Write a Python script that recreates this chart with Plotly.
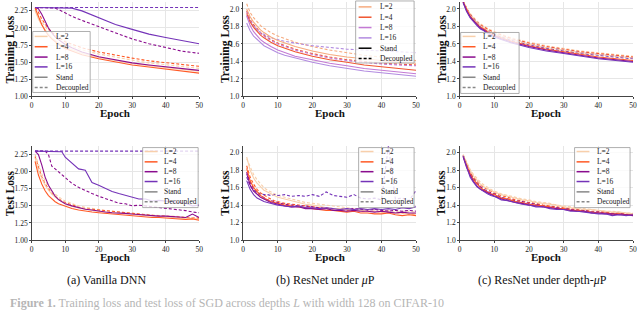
import plotly.graph_objects as go

# ---------------- data ----------------
epochs_train = [1, 2, 3, 4, 5, 6, 7, 8, 10, 12, 15, 20, 25, 30, 35, 40, 45, 50]
epochs_test = [1, 2, 3, 4, 5, 6, 7, 8, 9, 10, 12, 14, 16, 18, 20, 22, 24, 26, 28, 30,
               32, 34, 36, 38, 40, 42, 44, 46, 48, 50]
depth_labels = ["L=2", "L=4", "L=8", "L=16"]
style_labels = ["Stand", "Decoupled"]
x_ticks = [0, 10, 20, 30, 40, 50]
y_ticks_dnn = [1.0, 1.25, 1.5, 1.75, 2.0, 2.25]
y_ticks_res = [1.0, 1.2, 1.4, 1.6, 1.8, 2.0]
captions = ["(a) Vanilla DNN", "(b) ResNet under <i>μ</i>P", "(c) ResNet under depth-<i>μ</i>P"]

# (a) Vanilla DNN - training loss
a_tr_L2_stand = [2.25, 2.13, 2.04, 1.97, 1.91, 1.86, 1.82, 1.78, 1.72, 1.68, 1.63, 1.57, 1.52, 1.48, 1.45, 1.42, 1.39, 1.37]
a_tr_L4_stand = [2.29, 2.16, 2.05, 1.96, 1.89, 1.84, 1.80, 1.76, 1.70, 1.66, 1.61, 1.55, 1.50, 1.46, 1.43, 1.40, 1.37, 1.34]
a_tr_L8_stand = [2.30, 2.28, 2.20, 2.09, 2.00, 1.93, 1.87, 1.83, 1.76, 1.71, 1.65, 1.58, 1.53, 1.49, 1.46, 1.43, 1.40, 1.38]
a_tr_L16_stand = [2.30, 2.30, 2.30, 2.30, 2.30, 2.30, 2.30, 2.30, 2.30, 2.29, 2.25, 2.15, 2.05, 1.98, 1.91, 1.86, 1.81, 1.77]
a_tr_L2_dec = [2.27, 2.17, 2.09, 2.02, 1.96, 1.91, 1.87, 1.83, 1.77, 1.73, 1.68, 1.62, 1.57, 1.53, 1.49, 1.46, 1.43, 1.41]
a_tr_L4_dec = [2.30, 2.23, 2.13, 2.05, 1.99, 1.94, 1.90, 1.86, 1.80, 1.76, 1.71, 1.65, 1.60, 1.56, 1.52, 1.49, 1.46, 1.44]
a_tr_L8_dec = [2.30, 2.30, 2.30, 2.30, 2.30, 2.30, 2.29, 2.27, 2.22, 2.17, 2.11, 2.02, 1.92, 1.84, 1.77, 1.71, 1.66, 1.63]
a_tr_L16_dec = [2.30, 2.30, 2.30, 2.30, 2.30, 2.30, 2.30, 2.30, 2.30, 2.30, 2.30, 2.30, 2.30, 2.30, 2.30, 2.30, 2.30, 2.30]

# (a) Vanilla DNN - test loss
a_te_L2_stand = [2.20, 2.02, 1.90, 1.80, 1.73, 1.67, 1.63, 1.59, 1.56, 1.53, 1.49, 1.47, 1.45, 1.44, 1.42, 1.41, 1.40, 1.39, 1.38, 1.37, 1.36, 1.36, 1.35, 1.34, 1.34, 1.33, 1.33, 1.31, 1.32, 1.30]
a_te_L4_stand = [2.15, 1.95, 1.82, 1.72, 1.65, 1.60, 1.56, 1.53, 1.51, 1.49, 1.46, 1.44, 1.42, 1.41, 1.40, 1.39, 1.38, 1.37, 1.36, 1.36, 1.35, 1.34, 1.33, 1.33, 1.32, 1.32, 1.31, 1.30, 1.31, 1.29]
a_te_L8_stand = [2.30, 2.25, 2.10, 1.92, 1.80, 1.71, 1.64, 1.59, 1.56, 1.53, 1.50, 1.47, 1.45, 1.44, 1.42, 1.41, 1.40, 1.40, 1.39, 1.38, 1.37, 1.37, 1.36, 1.35, 1.35, 1.34, 1.34, 1.33, 1.38, 1.33]
a_te_L16_stand = [2.30, 2.30, 2.30, 2.30, 2.30, 2.30, 2.30, 2.30, 2.29, 2.21, 2.12, 2.04, 2.02, 1.84, 1.80, 1.75, 1.71, 1.68, 1.65, 1.63, 1.60, 1.60, 1.57, 1.58, 1.57, 1.55, 1.55, 1.54, 1.50, 1.51]
a_te_L2_dec = [2.25, 2.10, 1.97, 1.86, 1.78, 1.72, 1.67, 1.63, 1.60, 1.57, 1.53, 1.50, 1.48, 1.46, 1.45, 1.43, 1.42, 1.41, 1.40, 1.39, 1.38, 1.37, 1.37, 1.36, 1.35, 1.35, 1.34, 1.34, 1.33, 1.33]
a_te_L4_dec = [2.22, 2.05, 1.92, 1.82, 1.74, 1.68, 1.64, 1.60, 1.57, 1.55, 1.51, 1.48, 1.46, 1.45, 1.43, 1.42, 1.41, 1.40, 1.39, 1.38, 1.37, 1.37, 1.36, 1.35, 1.35, 1.34, 1.33, 1.33, 1.32, 1.32]
a_te_L8_dec = [2.30, 2.30, 2.30, 2.30, 2.25, 2.08, 2.04, 2.00, 1.96, 1.92, 1.83, 1.77, 1.72, 1.68, 1.64, 1.61, 1.57, 1.54, 1.53, 1.50, 1.51, 1.50, 1.49, 1.48, 1.46, 1.45, 1.44, 1.43, 1.41, 1.40]
a_te_L16_dec = [2.30, 2.30, 2.30, 2.30, 2.30, 2.30, 2.30, 2.30, 2.30, 2.30, 2.30, 2.30, 2.30, 2.30, 2.30, 2.30, 2.30, 2.30, 2.30, 2.30, 2.30, 2.30, 2.30, 2.30, 2.30, 2.30, 2.30, 2.30, 2.30, 2.30]

# (b) ResNet under muP - training loss
b_tr_L2_stand = [2.00, 1.91, 1.85, 1.80, 1.76, 1.73, 1.70, 1.68, 1.64, 1.61, 1.57, 1.52, 1.48, 1.45, 1.43, 1.41, 1.39, 1.38]
b_tr_L4_stand = [1.95, 1.85, 1.79, 1.74, 1.70, 1.67, 1.64, 1.62, 1.58, 1.55, 1.51, 1.46, 1.42, 1.39, 1.36, 1.34, 1.32, 1.30]
b_tr_L8_stand = [1.92, 1.81, 1.74, 1.69, 1.65, 1.62, 1.59, 1.57, 1.53, 1.50, 1.46, 1.42, 1.38, 1.35, 1.32, 1.30, 1.28, 1.26]
b_tr_L16_stand = [1.84, 1.75, 1.69, 1.65, 1.61, 1.58, 1.56, 1.54, 1.50, 1.47, 1.44, 1.39, 1.35, 1.32, 1.29, 1.27, 1.25, 1.23]
b_tr_L2_dec = [2.06, 1.96, 1.90, 1.85, 1.81, 1.78, 1.75, 1.73, 1.69, 1.66, 1.62, 1.57, 1.53, 1.50, 1.47, 1.45, 1.43, 1.41]
b_tr_L4_dec = [1.98, 1.88, 1.82, 1.77, 1.73, 1.70, 1.67, 1.65, 1.61, 1.58, 1.54, 1.49, 1.45, 1.42, 1.40, 1.38, 1.37, 1.36]
b_tr_L8_dec = [1.97, 1.87, 1.81, 1.76, 1.72, 1.69, 1.66, 1.64, 1.60, 1.57, 1.53, 1.48, 1.44, 1.41, 1.39, 1.37, 1.36, 1.35]
b_tr_L16_dec = [1.93, 1.85, 1.80, 1.76, 1.73, 1.71, 1.69, 1.67, 1.65, 1.63, 1.61, 1.58, 1.56, 1.54, 1.53, 1.52, 1.51, 1.50]

# (b) ResNet under muP - test loss
b_te_L2_stand = [1.95, 1.80, 1.71, 1.65, 1.61, 1.57, 1.55, 1.53, 1.51, 1.49, 1.47, 1.45, 1.43, 1.41, 1.40, 1.39, 1.37, 1.36, 1.36, 1.35, 1.34, 1.34, 1.33, 1.33, 1.32, 1.32, 1.31, 1.31, 1.30, 1.30]
b_te_L4_stand = [1.82, 1.68, 1.60, 1.55, 1.51, 1.48, 1.46, 1.44, 1.43, 1.42, 1.40, 1.39, 1.38, 1.37, 1.36, 1.35, 1.34, 1.34, 1.33, 1.32, 1.33, 1.31, 1.31, 1.30, 1.30, 1.31, 1.29, 1.28, 1.29, 1.28]
b_te_L8_stand = [1.76, 1.63, 1.56, 1.52, 1.49, 1.47, 1.45, 1.43, 1.42, 1.41, 1.39, 1.38, 1.38, 1.36, 1.36, 1.35, 1.36, 1.34, 1.34, 1.33, 1.34, 1.33, 1.33, 1.32, 1.33, 1.32, 1.31, 1.32, 1.31, 1.31]
b_te_L16_stand = [1.68, 1.58, 1.52, 1.48, 1.46, 1.44, 1.43, 1.42, 1.41, 1.40, 1.39, 1.38, 1.39, 1.37, 1.37, 1.36, 1.37, 1.36, 1.35, 1.36, 1.35, 1.36, 1.35, 1.36, 1.35, 1.36, 1.35, 1.37, 1.36, 1.38]
b_te_L2_dec = [1.93, 1.83, 1.75, 1.69, 1.64, 1.60, 1.57, 1.55, 1.53, 1.51, 1.49, 1.47, 1.45, 1.43, 1.42, 1.41, 1.40, 1.39, 1.38, 1.37, 1.36, 1.36, 1.35, 1.35, 1.34, 1.34, 1.33, 1.33, 1.33, 1.32]
b_te_L4_dec = [1.85, 1.72, 1.64, 1.58, 1.54, 1.51, 1.49, 1.47, 1.45, 1.44, 1.42, 1.41, 1.40, 1.39, 1.38, 1.37, 1.36, 1.36, 1.35, 1.34, 1.34, 1.33, 1.33, 1.33, 1.32, 1.32, 1.31, 1.31, 1.30, 1.30]
b_te_L8_dec = [1.78, 1.66, 1.59, 1.54, 1.51, 1.48, 1.46, 1.45, 1.44, 1.43, 1.41, 1.40, 1.39, 1.39, 1.38, 1.37, 1.37, 1.36, 1.36, 1.35, 1.36, 1.35, 1.34, 1.35, 1.34, 1.33, 1.34, 1.33, 1.34, 1.33]
b_te_L16_dec = [1.72, 1.62, 1.57, 1.54, 1.53, 1.52, 1.52, 1.51, 1.52, 1.51, 1.52, 1.50, 1.51, 1.50, 1.52, 1.50, 1.55, 1.51, 1.50, 1.49, 1.52, 1.48, 1.47, 1.48, 1.46, 2.08, 1.47, 1.48, 1.45, 1.57]

# (c) ResNet under depth-muP - training loss
c_tr_L2_stand = [2.09, 2.00, 1.93, 1.88, 1.84, 1.81, 1.78, 1.76, 1.72, 1.69, 1.65, 1.60, 1.56, 1.53, 1.50, 1.48, 1.46, 1.44]
c_tr_L4_stand = [2.08, 1.99, 1.92, 1.87, 1.83, 1.79, 1.77, 1.74, 1.70, 1.67, 1.63, 1.58, 1.54, 1.51, 1.48, 1.45, 1.43, 1.41]
c_tr_L8_stand = [2.08, 1.98, 1.91, 1.86, 1.82, 1.78, 1.76, 1.73, 1.69, 1.66, 1.62, 1.57, 1.53, 1.50, 1.47, 1.44, 1.42, 1.40]
c_tr_L16_stand = [2.07, 1.97, 1.90, 1.85, 1.81, 1.77, 1.75, 1.72, 1.68, 1.65, 1.61, 1.56, 1.52, 1.49, 1.46, 1.43, 1.41, 1.39]
c_tr_L2_dec = [2.10, 2.01, 1.95, 1.90, 1.86, 1.83, 1.80, 1.78, 1.74, 1.71, 1.67, 1.62, 1.58, 1.55, 1.52, 1.50, 1.48, 1.46]
c_tr_L4_dec = [2.09, 2.00, 1.94, 1.89, 1.85, 1.82, 1.79, 1.77, 1.73, 1.70, 1.66, 1.61, 1.57, 1.54, 1.51, 1.49, 1.47, 1.45]
c_tr_L8_dec = [2.09, 2.00, 1.93, 1.88, 1.84, 1.81, 1.78, 1.76, 1.72, 1.69, 1.65, 1.60, 1.56, 1.53, 1.50, 1.48, 1.46, 1.44]
c_tr_L16_dec = [2.08, 1.99, 1.93, 1.88, 1.84, 1.80, 1.78, 1.75, 1.71, 1.68, 1.64, 1.59, 1.55, 1.52, 1.49, 1.47, 1.45, 1.43]

# (c) ResNet under depth-muP - test loss
c_te_L2_stand = [1.97, 1.88, 1.80, 1.73, 1.68, 1.64, 1.61, 1.59, 1.57, 1.55, 1.52, 1.50, 1.48, 1.46, 1.45, 1.43, 1.42, 1.41, 1.40, 1.38, 1.37, 1.36, 1.35, 1.35, 1.34, 1.33, 1.32, 1.32, 1.31, 1.30]
c_te_L4_stand = [1.96, 1.85, 1.76, 1.69, 1.64, 1.60, 1.57, 1.55, 1.53, 1.52, 1.48, 1.47, 1.44, 1.43, 1.41, 1.40, 1.39, 1.38, 1.36, 1.36, 1.34, 1.34, 1.33, 1.32, 1.31, 1.31, 1.30, 1.30, 1.29, 1.29]
c_te_L8_stand = [1.95, 1.83, 1.74, 1.67, 1.62, 1.58, 1.56, 1.54, 1.52, 1.50, 1.47, 1.45, 1.43, 1.42, 1.40, 1.39, 1.38, 1.37, 1.36, 1.35, 1.34, 1.33, 1.33, 1.31, 1.31, 1.30, 1.30, 1.29, 1.29, 1.28]
c_te_L16_stand = [1.96, 1.84, 1.72, 1.66, 1.61, 1.58, 1.55, 1.53, 1.51, 1.50, 1.46, 1.45, 1.43, 1.41, 1.40, 1.38, 1.38, 1.36, 1.35, 1.35, 1.33, 1.33, 1.32, 1.31, 1.30, 1.30, 1.28, 1.29, 1.28, 1.29]
c_te_L2_dec = [1.98, 1.89, 1.81, 1.75, 1.70, 1.66, 1.63, 1.60, 1.58, 1.56, 1.53, 1.51, 1.49, 1.47, 1.46, 1.44, 1.43, 1.42, 1.40, 1.39, 1.38, 1.37, 1.36, 1.35, 1.34, 1.33, 1.33, 1.32, 1.31, 1.31]
c_te_L4_dec = [1.97, 1.87, 1.78, 1.72, 1.67, 1.63, 1.60, 1.58, 1.56, 1.54, 1.51, 1.49, 1.46, 1.45, 1.43, 1.42, 1.40, 1.39, 1.38, 1.37, 1.36, 1.35, 1.34, 1.33, 1.33, 1.32, 1.31, 1.31, 1.30, 1.30]
c_te_L8_dec = [1.96, 1.86, 1.77, 1.70, 1.65, 1.61, 1.58, 1.56, 1.54, 1.53, 1.49, 1.47, 1.45, 1.44, 1.42, 1.41, 1.39, 1.38, 1.37, 1.36, 1.35, 1.34, 1.34, 1.32, 1.32, 1.31, 1.30, 1.31, 1.29, 1.30]
c_te_L16_dec = [1.97, 1.86, 1.76, 1.69, 1.64, 1.60, 1.57, 1.55, 1.53, 1.51, 1.48, 1.46, 1.44, 1.42, 1.41, 1.40, 1.38, 1.37, 1.36, 1.36, 1.34, 1.33, 1.33, 1.32, 1.31, 1.31, 1.29, 1.30, 1.29, 1.30]

# ---------------- styling ----------------
W, H = 640, 311
SERIF = "Liberation Serif, Times New Roman, serif"
colors_dnn = ["#f8cfab", "#ff5a26", "#8a0c8e", "#7433b8"]
colors_mup = ["#f6aa7e", "#f05530", "#c47ad4", "#b28be0"]
dash_pat = "3px,2px"


def px_x(x):
    return x / W


def px_y(y):
    return 1 - y / H


panels = [
    dict(x=epochs_train, s=[[a_tr_L2_stand, a_tr_L2_dec], [a_tr_L4_stand, a_tr_L4_dec], [a_tr_L8_stand, a_tr_L8_dec], [a_tr_L16_stand, a_tr_L16_dec]],
         cols=colors_dnn, sc="#888888", xpx=(30, 199), ypx=(2, 98), yr=[1.0, 2.38], yt=y_ticks_dnn, fmt=".2f",
         ytitle="Training Loss", ytx=8.5, leg=dict(box=(31, 89, 32, 94), smp=(33, 46), tx=52, ys=[37, 47.5, 58, 68, 78.5, 89])),
    dict(x=epochs_train, s=[[b_tr_L2_stand, b_tr_L2_dec], [b_tr_L4_stand, b_tr_L4_dec], [b_tr_L8_stand, b_tr_L8_dec], [b_tr_L16_stand, b_tr_L16_dec]],
         cols=colors_mup, sc="#000000", xpx=(243.5, 418), ypx=(2, 98), yr=[1.0, 2.08], yt=y_ticks_res, fmt=".1f",
         ytitle="Training Loss", ytx=225, leg=dict(box=(357, 416, 1, 64), smp=(360, 373), tx=380, ys=[7, 17.5, 28, 38.5, 49, 59.5])),
    dict(x=epochs_train, s=[[c_tr_L2_stand, c_tr_L2_dec], [c_tr_L4_stand, c_tr_L4_dec], [c_tr_L8_stand, c_tr_L8_dec], [c_tr_L16_stand, c_tr_L16_dec]],
         cols=colors_dnn, sc="#888888", xpx=(462, 637), ypx=(2, 98), yr=[1.0, 2.08], yt=y_ticks_res, fmt=".1f",
         ytitle="Training Loss", ytx=444, leg=dict(box=(463, 522, 33, 95), smp=(465, 478), tx=484, ys=[37, 47.5, 58, 68, 78.5, 89])),
    dict(x=epochs_test, s=[[a_te_L2_stand, a_te_L2_dec], [a_te_L4_stand, a_te_L4_dec], [a_te_L8_stand, a_te_L8_dec], [a_te_L16_stand, a_te_L16_dec]],
         cols=colors_dnn, sc="#888888", xpx=(30, 199), ypx=(148, 244), yr=[1.0, 2.38], yt=y_ticks_dnn, fmt=".2f",
         ytitle="Test Loss", ytx=7.5, leg=dict(box=(142, 198, 150, 211), smp=(144, 157), tx=162, ys=[154, 164.5, 174.5, 184.5, 195, 205])),
    dict(x=epochs_test, s=[[b_te_L2_stand, b_te_L2_dec], [b_te_L4_stand, b_te_L4_dec], [b_te_L8_stand, b_te_L8_dec], [b_te_L16_stand, b_te_L16_dec]],
         cols=colors_dnn, sc="#888888", xpx=(243.5, 418), ypx=(148, 244), yr=[1.0, 2.08], yt=y_ticks_res, fmt=".1f",
         ytitle="Test Loss", ytx=225, leg=dict(box=(360, 416, 150, 211), smp=(362, 375), tx=381, ys=[154, 164.5, 174.5, 184.5, 195, 205])),
    dict(x=epochs_test, s=[[c_te_L2_stand, c_te_L2_dec], [c_te_L4_stand, c_te_L4_dec], [c_te_L8_stand, c_te_L8_dec], [c_te_L16_stand, c_te_L16_dec]],
         cols=colors_dnn, sc="#888888", xpx=(462, 637), ypx=(148, 244), yr=[1.0, 2.08], yt=y_ticks_res, fmt=".1f",
         ytitle="Test Loss", ytx=443, leg=dict(box=(578, 634, 150, 211), smp=(580, 593), tx=599, ys=[154, 164.5, 174.5, 184.5, 195, 205])),
]

fig = go.Figure()
shapes = []
annotations = []

for i, p in enumerate(panels, start=1):
    xa = "x" if i == 1 else f"x{i}"
    ya = "y" if i == 1 else f"y{i}"
    for style_idx in (1, 0):
        for d_idx, pair in enumerate(p["s"]):
            fig.add_trace(go.Scatter(
                x=p["x"], y=pair[style_idx], mode="lines",
                line=dict(color=p["cols"][d_idx], width=1.1,
                          dash=dash_pat if style_idx == 1 else "solid"),
                showlegend=False, hoverinfo="skip", xaxis=xa, yaxis=ya))
    axis_common = dict(showline=True, linecolor="#444444", linewidth=1, mirror=False,
                       showgrid=True, gridcolor="#e6e6e6", gridwidth=0.8, zeroline=False,
                       ticks="outside", ticklen=1.5, tickcolor="#444444", tickwidth=0.8,
                       tickfont=dict(family=SERIF, size=7.5, color="#222222"))
    fig.layout["xaxis" if i == 1 else f"xaxis{i}"] = dict(
        domain=[px_x(p["xpx"][0]), px_x(p["xpx"][1])], range=[0, 50], tickvals=x_ticks,
        anchor=ya, **axis_common)
    fig.layout["yaxis" if i == 1 else f"yaxis{i}"] = dict(
        domain=[px_y(p["ypx"][1]), px_y(p["ypx"][0])], range=p["yr"], tickvals=p["yt"],
        tickformat=p["fmt"], anchor=xa, **axis_common)

    # axis titles
    cx = (p["xpx"][0] + p["xpx"][1]) / 2
    ty = p["ypx"][1] + 17
    annotations.append(dict(x=px_x(cx), y=px_y(ty), xref="paper", yref="paper", text="<b>Epoch</b>",
                            showarrow=False, font=dict(family=SERIF, size=11, color="#111111"),
                            xanchor="center", yanchor="middle", borderpad=0))
    cy = (p["ypx"][0] + p["ypx"][1]) / 2
    annotations.append(dict(x=px_x(p["ytx"]), y=px_y(cy), xref="paper", yref="paper",
                            text=f"<b>{p['ytitle']}</b>", textangle=-90, showarrow=False,
                            font=dict(family=SERIF, size=11.5, color="#111111"),
                            xanchor="center", yanchor="middle"))

    # manual legend
    lg = p["leg"]
    bx0, bx1, by0, by1 = lg["box"]
    shapes.append(dict(type="rect", xref="paper", yref="paper", x0=px_x(bx0), x1=px_x(bx1),
                       y0=px_y(by1), y1=px_y(by0), fillcolor="rgba(255,255,255,0.8)",
                       line=dict(color="#9a9a9a", width=0.8), layer="above"))
    labels = depth_labels + style_labels
    for k, lab in enumerate(labels):
        yk = lg["ys"][k]
        if k < 4:
            col, dsh = p["cols"][k], "solid"
        else:
            col, dsh = p["sc"], ("solid" if k == 4 else "dash")
        shapes.append(dict(type="line", xref="paper", yref="paper", x0=px_x(lg["smp"][0]),
                           x1=px_x(lg["smp"][1]), y0=px_y(yk), y1=px_y(yk),
                           line=dict(color=col, width=1.5, dash=dash_pat if dsh == "dash" else "solid"),
                           layer="above"))
        annotations.append(dict(x=px_x(lg["tx"]), y=px_y(yk), xref="paper", yref="paper", text=lab,
                                showarrow=False, font=dict(family=SERIF, size=7.5, color="#222222"),
                                xanchor="left", yanchor="middle"))

# captions under each column
for cap, cxp in zip(captions, [105, 327, 546]):
    annotations.append(dict(x=px_x(cxp), y=px_y(285), xref="paper", yref="paper", text=cap,
                            showarrow=False, font=dict(family=SERIF, size=12, color="#111111"),
                            xanchor="center", yanchor="middle"))

annotations.append(dict(x=px_x(6), y=px_y(308), xref="paper", yref="paper",
                        text="<b>Figure 1.</b> Training loss and test loss of SGD across depths <i>L</i> with width 128 on CIFAR-10",
                        showarrow=False, font=dict(family=SERIF, size=12, color="#b5b5b5"),
                        xanchor="left", yanchor="middle"))

fig.update_layout(width=W, height=H, autosize=False, margin=dict(l=0, r=0, t=0, b=0),
                  paper_bgcolor="white", plot_bgcolor="white", showlegend=False,
                  shapes=shapes, annotations=annotations)

fig.write_html("out.html", config={"displayModeBar": False},
               post_script="document.body.style.margin='0';document.body.style.overflow='hidden';")
